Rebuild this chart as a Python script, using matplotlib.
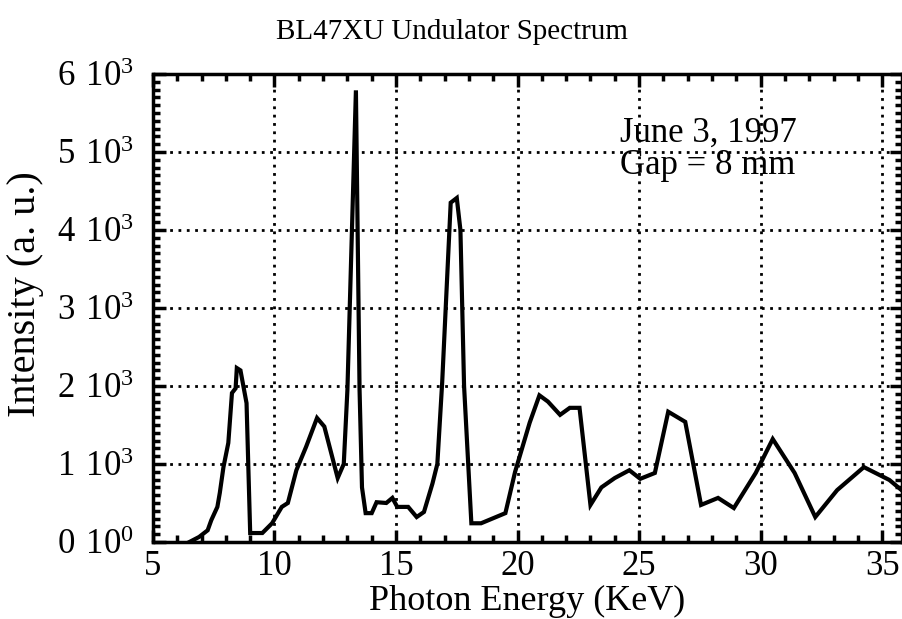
import numpy as np
import matplotlib
matplotlib.use("Agg")
import matplotlib.pyplot as plt
from matplotlib.ticker import MultipleLocator, FixedLocator

# photon energy (keV) and intensity (a.u.)
energy = [6.5, 6.9, 7.25, 7.4, 7.65, 7.75, 7.9, 8.1, 8.25, 8.4, 8.45, 8.6, 8.85, 9.0,
          9.5, 9.9, 10.3, 10.55, 10.9, 11.3, 11.75, 12.05, 12.6, 12.85, 13.0, 13.35,
          13.5, 13.6, 13.75, 14.0, 14.2, 14.6, 14.85, 15.05, 15.5, 15.85, 16.15, 16.5,
          16.7, 16.9, 17.25, 17.5, 17.65, 17.8, 18.1, 18.5, 19.5, 19.9, 20.5, 20.9,
          21.25, 21.75, 22.15, 22.55, 23.0, 23.45, 24.0, 24.6, 25.05, 25.65, 26.2,
          26.9, 27.55, 28.25, 28.9, 29.8, 30.5, 31.4, 32.25, 33.15, 34.25, 35.3, 35.8]
intensity = [0, 65, 150, 280, 450, 630, 960, 1270, 1910, 1970, 2230, 2200, 1780, 115,
             115, 240, 450, 500, 920, 1220, 1590, 1480, 820, 1000, 1950, 5790,
             1950, 700, 370, 370, 510, 500, 565, 450, 450, 320, 385, 750,
             1000, 2050, 4350, 4410, 4000, 2000, 240, 240, 370, 900, 1530, 1880,
             1800, 1630, 1720, 1720, 475, 700, 820, 920, 810, 885, 1670,
             1540, 475, 565, 435, 885, 1320, 885, 320, 665, 960, 795, 665]

xticks = [5, 10, 15, 20, 25, 30, 35]
yticks = [0, 1000, 2000, 3000, 4000, 5000, 6000]
ylabels = [r"$\mathregular{0\ 10^{0}}$"] + [r"$\mathregular{%d\ 10^{3}}$" % i for i in range(1, 7)]

plt.rcParams['font.family'] = 'Liberation Serif'
plt.rcParams['mathtext.fontset'] = 'custom'
plt.rcParams['mathtext.rm'] = 'Liberation Serif'

fig = plt.figure(figsize=(9.03, 6.19), dpi=100)
ax = fig.add_axes([0.1694, 0.1244, 0.829, 0.7561])

ax.plot(energy, intensity, color='black', lw=3, solid_joinstyle='miter')

ax.set_xlim(5, 35.8)
ax.set_ylim(0, 6000)
ax.xaxis.set_major_locator(FixedLocator(xticks))
ax.xaxis.set_minor_locator(MultipleLocator(1))
ax.yaxis.set_major_locator(FixedLocator(yticks))
ax.yaxis.set_minor_locator(MultipleLocator(100))
ax.set_xticklabels([str(t) for t in xticks])
ax.set_yticklabels(ylabels)

ax.tick_params(which='both', direction='in', top=True, right=True, colors='black',
               labelsize=25, width=2.5)
ax.tick_params(which='major', length=9)
ax.tick_params(which='minor', length=5)
ax.tick_params(axis='x', which='major', pad=6)
ax.tick_params(axis='y', which='major', pad=14)
for s in ax.spines.values():
    s.set_linewidth(2.5)

ax.grid(True, which='major', color='black', linestyle=(0, (1, 2)), lw=2)

ax.set_xlabel("Photon Energy (KeV)", fontsize=26, labelpad=1)
ax.set_ylabel("Intensity (a. u.)", fontsize=29)
ax.yaxis.set_label_coords(-0.146, 0.53)

ax.text(24.2, 5450, "June 3, 1997", fontsize=25, va='top', ha='left')
ax.text(24.2, 4720, "Gap = 8 mm", fontsize=25, va='baseline', ha='left')

fig.text(0.50, 0.948, "BL47XU Undulator Spectrum", fontsize=21, ha='center', va='center')

fig.savefig("out.png", dpi=100)
